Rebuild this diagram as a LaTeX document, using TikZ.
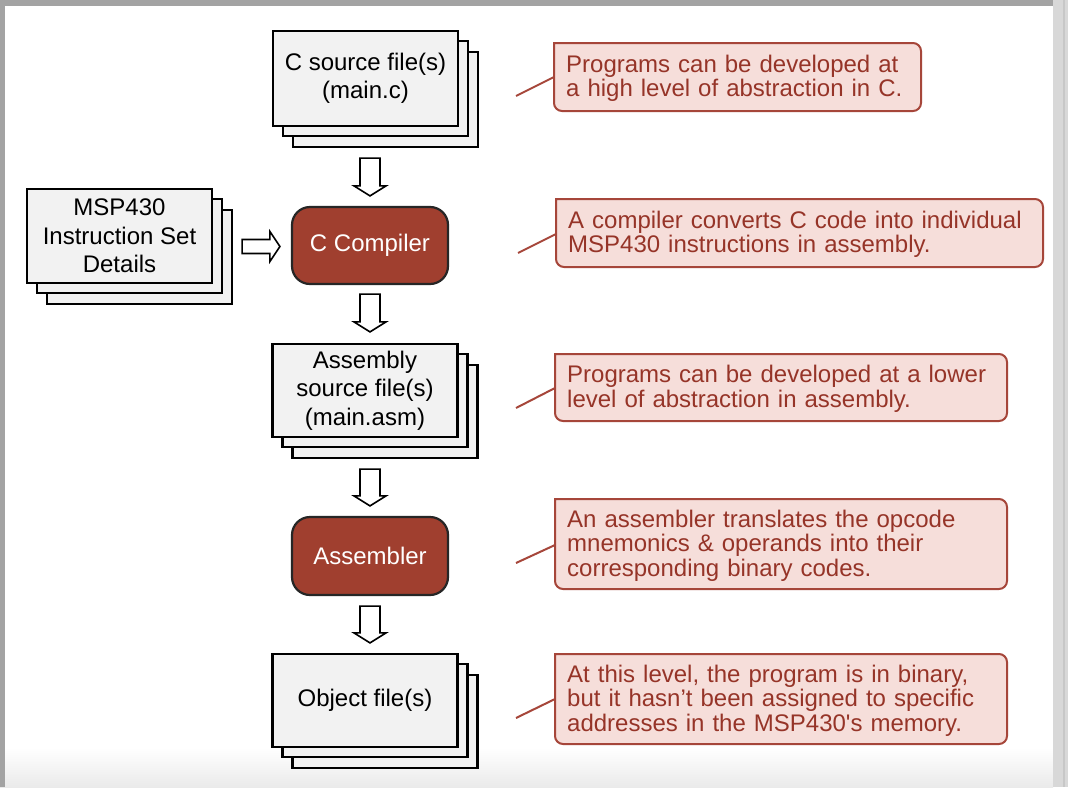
\documentclass[tikz,border=0pt]{standalone}
\usepackage{fontspec}
\setmainfont{Liberation Sans}
\usetikzlibrary{calc}
\definecolor{docfill}{RGB}{242,242,242}
\definecolor{procfill}{RGB}{160,63,47}
\definecolor{callfill}{RGB}{246,222,218}
\definecolor{calldraw}{RGB}{166,70,58}
\definecolor{calltext}{RGB}{150,52,40}
\definecolor{barA}{RGB}{163,163,163}
\definecolor{barB}{RGB}{216,216,216}
\definecolor{botgray}{RGB}{234,234,234}
\tikzset{
  docbox/.style={draw=black, line width=2.2pt, fill=docfill, minimum width=185pt, minimum height=94pt, inner sep=0pt, align=center, font=\fontsize{24}{28.5}\selectfont},
  doclayer/.style={draw=black, line width=2.2pt, fill=docfill},
  procbox/.style={draw=black!85, line width=2.2pt, fill=procfill, rounded corners=18pt, minimum width=156pt, minimum height=78pt, inner sep=0pt, text=white, font=\fontsize{24}{28.5}\selectfont},
  callnode/.style={inner ysep=0pt, inner xsep=12pt, align=left, text=calltext, font=\fontsize{24}{24.5}\selectfont},
  callshape/.style={draw=calldraw, line width=2pt, fill=callfill},
  leader/.style={draw=calldraw, line width=2pt},
  blk/.style={draw=black, line width=1.6pt, fill=white, line join=miter},
}
\newcommand\varrow[2]{\path[blk] let \p1=(#1), \p2=(#2) in (\x1-10pt,\y1) -- (\x1+10pt,\y1) -- (\x1+10pt,\y2+10pt) -- (\x1+16pt,\y2+10pt) -- (\x1,\y2) -- (\x1-16pt,\y2+10pt) -- (\x1-10pt,\y2+10pt) -- cycle;}
\newcommand\harrow[2]{\path[blk] let \p1=(#1), \p2=(#2) in (\x1,\y1+7pt) -- (\x2-10pt,\y1+7pt) -- (\x2-10pt,\y1+15pt) -- (\x2,\y1) -- (\x2-10pt,\y1-15pt) -- (\x2-10pt,\y1-7pt) -- (\x1,\y1-7pt) -- cycle;}
% callout: #1 name, #2 left, #3 top, #4 right, #5 bottom, #6 text
\newcommand\callbox[6]{%
  \path[callshape] ({(#2+#4)/2},#5) [rounded corners=8pt] -- (#2,#5) [sharp corners] -- (#2,#3) [rounded corners=8pt] -- (#4,#3) -- (#4,#5) -- cycle;
  \node[callnode, text width={#4-#2-24}, anchor=west] (#1) at (#2,{(#3+#5)/2+1.5}) {#6};
}
\begin{document}
\begin{tikzpicture}[x=1pt,y=-1pt]
\useasboundingbox (0,0) rectangle (1068,787);
% frame of the screenshot
\fill[white] (0,0) rectangle (1068,787);
\shade[top color=white, bottom color=botgray] (0,748) rectangle (1053,787);
\fill[barB] (1053,0) rectangle (1068,787);
\fill[black!22] (1063,0) rectangle (1065,787);
\fill[barA] (0,0) rectangle (1053,6);
\fill[barA] (0,0) rectangle (5,787);

% document stacks
\foreach \nm/\cx/\cy/\h/\txt in {cs/365.5/78.5/95/{C source file(s)\\(main.c)}, msp/119.5/236/94/{MSP430\\Instruction Set\\Details}, asm/365/390.5/93/{Assembly\\source file(s)\\(main.asm)}, obj/365/700.5/93/{Object file(s)}}{
  \draw[doclayer] ({\cx-92.5+20},{\cy-\h/2+21}) rectangle ({\cx+92.5+20},{\cy+\h/2+21});
  \draw[doclayer] ({\cx-92.5+10},{\cy-\h/2+10}) rectangle ({\cx+92.5+10},{\cy+\h/2+10});
  \node[docbox, minimum height=\h pt] (\nm) at (\cx,\cy) {\txt};
}

% process boxes
\node[procbox, minimum height=77pt] (comp) at (370,245.5) {C Compiler};
\node[procbox] (asmb) at (370,556) {Assembler};

% block arrows
\coordinate (a1s) at ($(cs.south -| comp.north)+(0,31)$);
\coordinate (a1e) at ($(comp.north)+(0,-10)$);
\coordinate (a2s) at ($(comp.south)+(0,9)$);
\coordinate (a2e) at ($(asm.north -| comp.south)+(0,-11)$);
\coordinate (a3s) at ($(asm.south -| comp.south)+(0,31)$);
\coordinate (a3e) at ($(asmb.north)+(0,-10)$);
\coordinate (a4s) at ($(asmb.south)+(0,10)$);
\coordinate (a4e) at ($(obj.north -| asmb.south)+(0,-10)$);
\coordinate (hs) at ($(msp.east |- comp.west)+(29,1)$);
\coordinate (he) at ($(comp.west)+(-11,1)$);
\varrow{a1s}{a1e}
\varrow{a2s}{a2e}
\varrow{a3s}{a3e}
\varrow{a4s}{a4e}
\harrow{hs}{he}

% callouts
\callbox{c1}{554}{43}{921}{111}{Programs can be developed at\\a high level of abstraction in C.}
\callbox{c2}{556}{199}{1043}{267}{A compiler converts C code into individual\\MSP430 instructions in assembly.}
\callbox{c3}{555}{354}{1007}{421}{Programs can be developed at a lower\\level of abstraction in assembly.}
\callbox{c4}{555}{499}{1007}{589}{An assembler translates the opcode\\mnemonics \& operands into their\\corresponding binary codes.}
\callbox{c5}{555}{654}{1007}{744}{At this level, the program is in binary,\\but it hasn’t been assigned to specific\\addresses in the MSP430\textquotesingle s memory.}

% leader lines
\coordinate (l1) at (516,96);  \coordinate (k1) at (554,77);
\coordinate (l2) at (518,253); \coordinate (k2) at (556,234);
\coordinate (l3) at (516,408); \coordinate (k3) at (555,388);
\coordinate (l4) at (516,563); \coordinate (k4) at (555,545);
\coordinate (l5) at (516,718); \coordinate (k5) at (555,699);
\foreach \i in {1,...,5}{\draw[leader] (l\i) -- (k\i);}
\end{tikzpicture}
\end{document}
